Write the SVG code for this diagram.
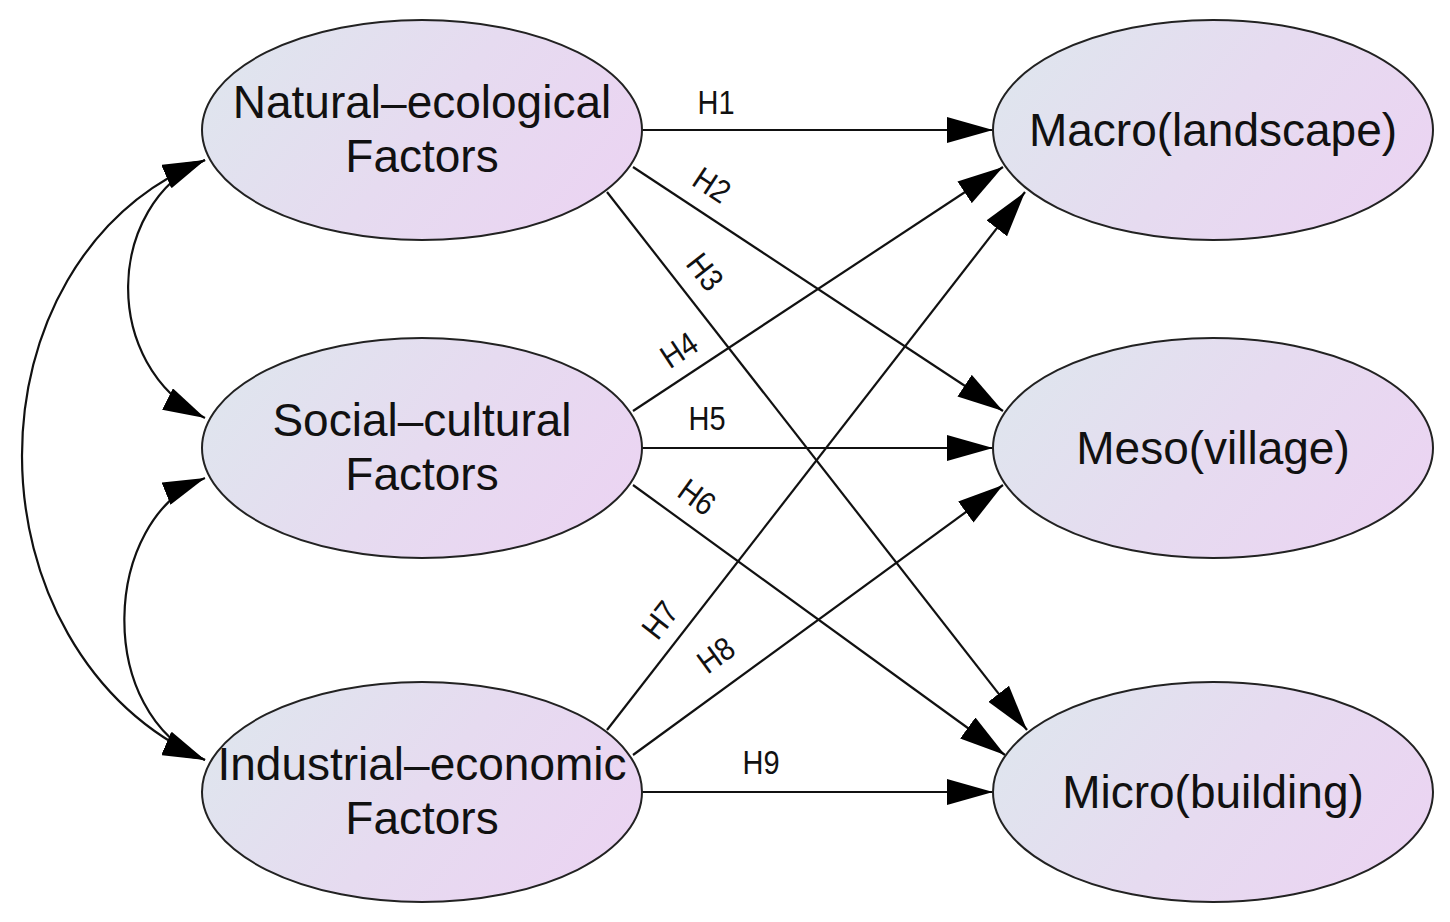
<svg xmlns="http://www.w3.org/2000/svg" width="1450" height="922" viewBox="0 0 1450 922">
  <style>
    .node ellipse { fill: url(#g); stroke: #222; stroke-width: 2; }
    .node text { font-family: "Liberation Sans", Arial, sans-serif; font-size: 46px; fill: #111; text-anchor: middle; }
    .conn line, .conn path { stroke: #111; stroke-width: 2.2; fill: none; }
    .lbl { font-family: "Liberation Sans", Arial, sans-serif; font-size: 29px; fill: #111; text-anchor: middle; }
  </style>
  <defs>
    <linearGradient id="g" x1="0" y1="0.3" x2="1" y2="0.7">
      <stop offset="0" stop-color="#dfe5ee"/>
      <stop offset="0.5" stop-color="#e6dbf0"/>
      <stop offset="1" stop-color="#ebd4f2"/>
    </linearGradient>
    <marker id="arr" viewBox="0 0 46 26" refX="46" refY="13" markerWidth="46" markerHeight="26" markerUnits="userSpaceOnUse" orient="auto-start-reverse">
      <path d="M0,0 L46,13 L0,26 Z" fill="#000"/>
    </marker>
    <marker id="arc" viewBox="0 0 42 24" refX="42" refY="12" markerWidth="42" markerHeight="24" markerUnits="userSpaceOnUse" orient="auto-start-reverse">
      <path d="M0,0 L42,12 L0,24 Z" fill="#000"/>
    </marker>
  </defs>
  <rect width="1450" height="922" fill="#fff"/>

  <g id="connectors" class="conn">
    <line x1="642" y1="130" x2="993" y2="130" marker-end="url(#arr)"/>
    <line x1="633" y1="167" x2="1003" y2="411" marker-end="url(#arr)"/>
    <line x1="607" y1="192" x2="1027" y2="730" marker-end="url(#arr)"/>
    <line x1="633" y1="411" x2="1003" y2="167" marker-end="url(#arr)"/>
    <line x1="642" y1="448" x2="993" y2="448" marker-end="url(#arr)"/>
    <line x1="633" y1="485" x2="1005" y2="755" marker-end="url(#arr)"/>
    <line x1="607" y1="730" x2="1025" y2="192" marker-end="url(#arr)"/>
    <line x1="633" y1="755" x2="1003" y2="485" marker-end="url(#arr)"/>
    <line x1="642" y1="792" x2="993" y2="792" marker-end="url(#arr)"/>
    <path d="M205,160 C105,205 100,365 205,418" marker-start="url(#arc)" marker-end="url(#arc)"/>
    <path d="M205,478 C100,520 95,715 205,760" marker-start="url(#arc)" marker-end="url(#arc)"/>
    <path d="M205,160 C-40,260 -38,650 205,760" marker-start="url(#arc)" marker-end="url(#arc)"/>
  </g>

  <g id="labels">
    <text class="lbl" transform="translate(716,103) scale(1,1.12)" y="10">H1</text>
    <text class="lbl" transform="translate(712,185) rotate(33.4) scale(1,1.12)" y="10">H2</text>
    <text class="lbl" transform="translate(705,272) rotate(52) scale(1,1.12)" y="10">H3</text>
    <text class="lbl" transform="translate(679,350) rotate(-33.4) scale(1,1.12)" y="10">H4</text>
    <text class="lbl" transform="translate(707,419) scale(1,1.12)" y="10">H5</text>
    <text class="lbl" transform="translate(697,497) rotate(36) scale(1,1.12)" y="10">H6</text>
    <text class="lbl" transform="translate(660,620) rotate(-52) scale(1,1.12)" y="10">H7</text>
    <text class="lbl" transform="translate(716,655) rotate(-36) scale(1,1.12)" y="10">H8</text>
    <text class="lbl" transform="translate(761,763) scale(1,1.12)" y="10">H9</text>
  </g>

  <g id="natural" class="node">
    <ellipse cx="422" cy="130" rx="220" ry="110"/>
    <text x="422" y="118">Natural–ecological</text>
    <text x="422" y="172">Factors</text>
  </g>
  <g id="social" class="node">
    <ellipse cx="422" cy="448" rx="220" ry="110"/>
    <text x="422" y="436">Social–cultural</text>
    <text x="422" y="490">Factors</text>
  </g>
  <g id="industrial" class="node">
    <ellipse cx="422" cy="792" rx="220" ry="110"/>
    <text x="422" y="780">Industrial–economic</text>
    <text x="422" y="834">Factors</text>
  </g>
  <g id="macro" class="node">
    <ellipse cx="1213" cy="130" rx="220" ry="110"/>
    <text x="1213" y="146">Macro(landscape)</text>
  </g>
  <g id="meso" class="node">
    <ellipse cx="1213" cy="448" rx="220" ry="110"/>
    <text x="1213" y="464">Meso(village)</text>
  </g>
  <g id="micro" class="node">
    <ellipse cx="1213" cy="792" rx="220" ry="110"/>
    <text x="1213" y="808">Micro(building)</text>
  </g>
</svg>
